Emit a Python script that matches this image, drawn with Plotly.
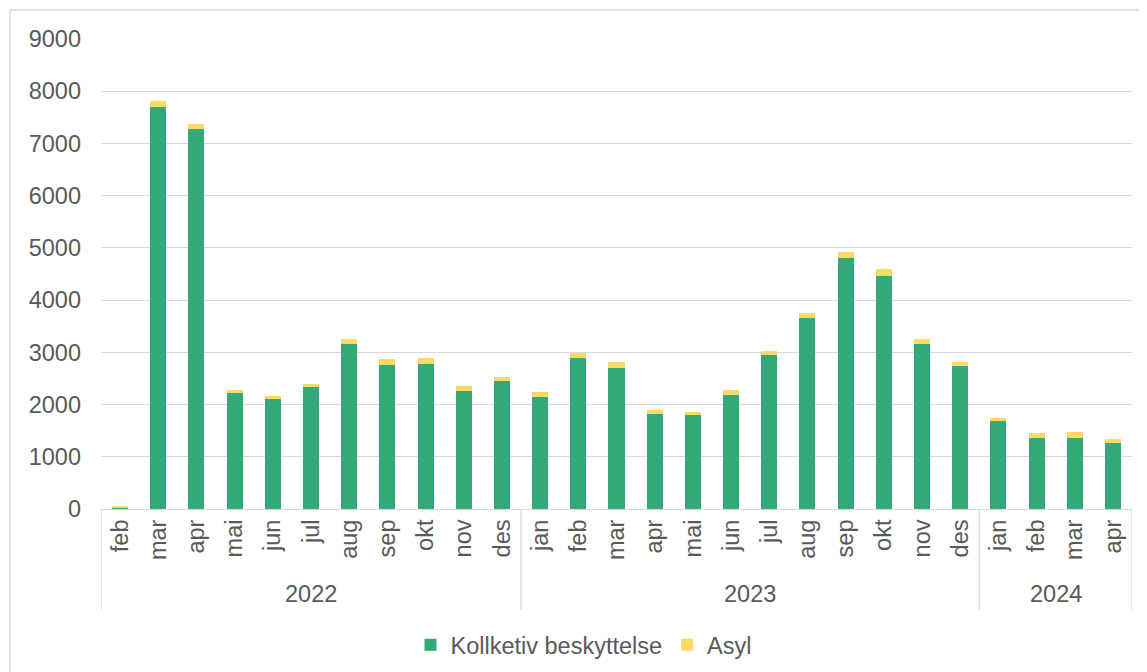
import plotly.graph_objects as go

months = ["feb", "mar", "apr", "mai", "jun", "jul", "aug", "sep", "okt", "nov", "des",
          "jan", "feb", "mar", "apr", "mai", "jun", "jul", "aug", "sep", "okt", "nov", "des",
          "jan", "feb", "mar", "apr"]
years = ["2022"] * 11 + ["2023"] * 12 + ["2024"] * 4
kollektiv = [20, 7690, 7270, 2215, 2105, 2330, 3165, 2765, 2780, 2265, 2455,
             2140, 2900, 2695, 1825, 1805, 2175, 2950, 3665, 4815, 4455, 3165, 2745,
             1685, 1365, 1365, 1260]
asyl = [30, 120, 100, 65, 65, 70, 95, 105, 105, 90, 80,
        95, 90, 125, 75, 55, 95, 75, 95, 110, 135, 95, 75,
        60, 95, 115, 75]
y_ticks = [0, 1000, 2000, 3000, 4000, 5000, 6000, 7000, 8000, 9000]

GREEN = "#33a878"
YELLOW = "#ffd966"
GRID = "#d9d9d9"
TXT = "#595959"
FONT = "Liberation Sans, Arial, sans-serif"

x = list(range(len(months)))

fig = go.Figure()
fig.add_bar(x=x, y=kollektiv, name="Kollketiv beskyttelse", marker_color=GREEN,
            marker_line_width=0)
fig.add_bar(x=x, y=asyl, name="Asyl", marker_color=YELLOW, marker_line_width=0)

# Year groups
groups = []
for i, yv in enumerate(years):
    if not groups or groups[-1][0] != yv:
        groups.append([yv, i, i])
    else:
        groups[-1][2] = i

shapes = []
annotations = []
bounds = [-0.5] + [g[2] + 0.5 for g in groups]
for b in bounds:
    shapes.append(dict(type="line", xref="x", yref="paper", x0=b, x1=b, y0=0, y1=-0.215,
                       line=dict(color=GRID, width=1.3)))
for yv, a, b in groups:
    annotations.append(dict(text=yv, xref="x", yref="paper", x=(a + b) / 2, y=-0.181,
                            showarrow=False, xanchor="center", yanchor="middle",
                            font=dict(size=23.5, color=TXT, family=FONT)))

# Chart frame (left and top edges visible)
shapes.append(dict(type="line", xref="paper", yref="paper", x0=-0.0883, x1=-0.0883,
                   y0=1.0617, y1=-0.6, line=dict(color=GRID, width=1.3)))
shapes.append(dict(type="line", xref="paper", yref="paper", x0=-0.0883, x1=1.2,
                   y0=1.0617, y1=1.0617, line=dict(color=GRID, width=1.3)))

fig.update_layout(
    width=1147, height=672,
    margin=dict(l=93, r=23, t=31, b=171, autoexpand=False),
    barmode="stack", bargap=0.58,
    plot_bgcolor="white", paper_bgcolor="white",
    font=dict(family=FONT, size=23.5, color=TXT),
    showlegend=True,
    legend=dict(orientation="h", xref="paper", x=0.468, xanchor="center",
                yref="container", y=0.052, yanchor="middle",
                font=dict(size=23.5, color=TXT), itemwidth=30, traceorder="normal"),
    shapes=shapes, annotations=annotations,
)
fig.update_xaxes(range=[-0.5, len(months) - 0.5], tickmode="array", tickvals=x,
                 ticktext=months, tickangle=-90, showgrid=False, showline=True,
                 linecolor=GRID, linewidth=1.3, ticks="", zeroline=False, automargin=False,
                 tickfont=dict(size=23.5, color=TXT))
fig.update_yaxes(range=[0, 9000], tickmode="array", tickvals=y_ticks, showgrid=True,
                 gridcolor=GRID, gridwidth=1.3, zeroline=False, showline=False, ticks="",
                 automargin=False, ticklabelstandoff=19,
                 tickfont=dict(size=23.5, color=TXT))

fig.write_html("out.html")
